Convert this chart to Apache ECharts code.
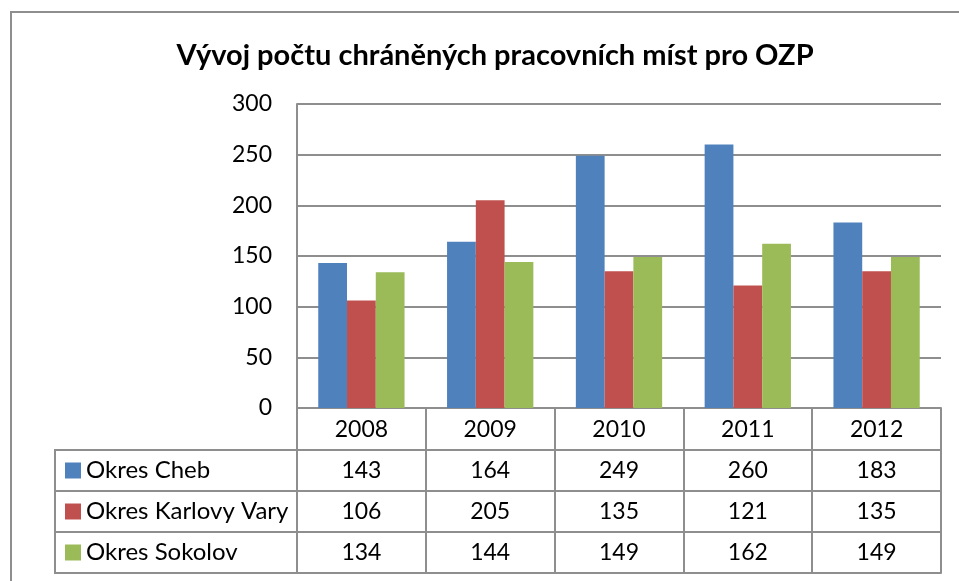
<!DOCTYPE html>
<html><head><meta charset="utf-8">
<script src="https://cdn.jsdelivr.net/npm/echarts@6/dist/echarts.min.js"></script>
<style>html,body{margin:0;padding:0;background:#fff}#c{width:959px;height:581px}</style>
</head><body><div id="c"></div>
<script>
const years = ['2008', '2009', '2010', '2011', '2012'];
const seriesNames = ['Okres Cheb', 'Okres Karlovy Vary', 'Okres Sokolov'];
const cheb = [143, 164, 249, 260, 183];
const karlovyVary = [106, 205, 135, 121, 135];
const sokolov = [134, 144, 149, 162, 149];
const yMin = 0, yMax = 300, yStep = 50;
const colors = ['#4F81BD', '#C0504D', '#9BBB59'];
const titleText = 'Vývoj počtu chráněných pracovních míst pro OZP';

const FONT = 'Lato';
const FS = 23;
const GRAY = '#8e8e8e';
const allSeries = [cheb, karlovyVary, sokolov];

const chart = echarts.init(document.getElementById('c'), null, {renderer: 'canvas'});

const xAxes = [{
  type: 'category', data: years, gridIndex: 0, position: 'bottom', offset: 0,
  axisLine: {show: true, lineStyle: {color: GRAY, width: 2}},
  axisTick: {show: true, length: 42, lineStyle: {color: GRAY, width: 2}},
  axisLabel: {margin: 10, fontSize: FS, color: '#000', fontFamily: FONT},
  splitLine: {show: false}
}];
allSeries.forEach((vals, i) => {
  xAxes.push({
    type: 'category', data: vals.map(String), gridIndex: 0, position: 'bottom', offset: 42 + 41 * i,
    axisLine: {show: true, lineStyle: {color: GRAY, width: 2}},
    axisTick: {show: true, length: 41, lineStyle: {color: GRAY, width: 2}},
    axisLabel: {margin: 9, fontSize: FS, color: '#000', fontFamily: FONT},
    splitLine: {show: false}
  });
});
xAxes.push({
  type: 'category', data: years, gridIndex: 0, position: 'bottom', offset: 42 + 41 * 3,
  axisLine: {show: true, lineStyle: {color: GRAY, width: 2}},
  axisTick: {show: false}, axisLabel: {show: false}, splitLine: {show: false}
});

const option = {
  animation: false,
  backgroundColor: '#fff',
  color: colors,
  title: {
    text: titleText, left: 490, top: 36, textAlign: 'center',
    textStyle: {fontFamily: FONT, fontWeight: 'bold', fontSize: 29, color: '#000'}
  },
  grid: {left: 297, top: 104, right: 18, bottom: 173, containLabel: false},
  legend: {
    orient: 'vertical', left: 65, top: 457, height: 200, padding: 0,
    itemWidth: 16, itemHeight: 16, itemGap: 14,
    icon: 'rect', selectedMode: false,
    textStyle: {fontFamily: FONT, fontSize: 24, color: '#000', lineHeight: 27},
    data: seriesNames
  },
  xAxis: xAxes,
  yAxis: {
    type: 'value', min: yMin, max: yMax, interval: yStep,
    axisLine: {show: true, lineStyle: {color: GRAY, width: 2}},
    axisTick: {show: false},
    axisLabel: {margin: 25, fontSize: FS, color: '#000', fontFamily: FONT},
    splitLine: {show: true, lineStyle: {color: GRAY, width: 2}}
  },
  series: allSeries.map((vals, i) => ({
    name: seriesNames[i], type: 'bar', xAxisIndex: 0, data: vals,
    barGap: '0%', barCategoryGap: '33%',
    itemStyle: {color: colors[i]}
  })),
  graphic: [
    {type: 'polyline', shape: {points: [[11, 590], [11, 12], [970, 12]]}, style: {fill: null, stroke: GRAY, lineWidth: 2}, z: 100},
    {type: 'rect', shape: {x: 55, y: 450, width: 242, height: 123}, style: {fill: null, stroke: GRAY, lineWidth: 2}, z: 100},
    {type: 'line', shape: {x1: 55, y1: 491, x2: 297, y2: 491}, style: {stroke: GRAY, lineWidth: 2}, z: 100},
    {type: 'line', shape: {x1: 55, y1: 532, x2: 297, y2: 532}, style: {stroke: GRAY, lineWidth: 2}, z: 100}
  ]
};
chart.setOption(option);
</script></body></html>
